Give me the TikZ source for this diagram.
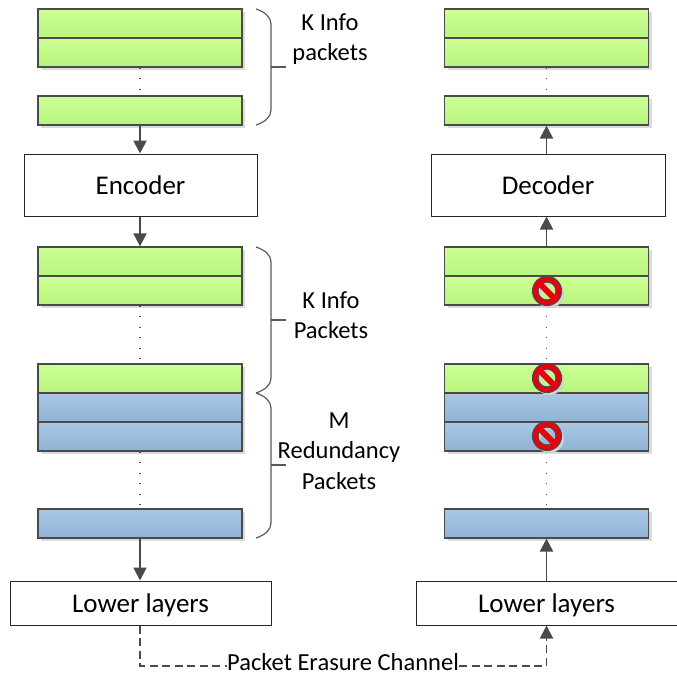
\documentclass[tikz,border=0pt]{standalone}
\usepackage{fontspec}
\setmainfont{Carlito}
\usetikzlibrary{arrows.meta,shadows}
\definecolor{edgegray}{HTML}{4A4A4A}
\definecolor{greentop}{HTML}{CCFF94}
\definecolor{greenbot}{HTML}{B8F47C}
\definecolor{bluetop}{HTML}{A9C7E3}
\definecolor{bluebot}{HTML}{8FB3D6}
\definecolor{stopred}{HTML}{E8000F}
\tikzset{
  packet/.style={draw=edgegray,line width=1.2pt,minimum width=204pt,minimum height=29pt,inner sep=0pt,
    drop shadow={shadow xshift=3pt,shadow yshift=-3pt,fill=black!14,opacity=1}},
  infopkt/.style={packet,top color=greentop,bottom color=greenbot},
  redpkt/.style={packet,top color=bluetop,bottom color=bluebot},
  block/.style={draw=black!85,fill=white,line width=1pt,inner sep=0pt,text depth=0pt,font=\fontsize{27}{27}\selectfont},
  label/.style={font=\fontsize{24.5}{24.5}\selectfont,inner sep=0pt,align=center},
  flow/.style={draw=edgegray,line width=1.9pt,-{Triangle[length=13pt,width=13pt]}},
  lossy/.style={flow,dash pattern=on 8pt off 4.5pt},
  lossyend/.style={draw=edgegray,line width=1.9pt,dash pattern=on 8pt off 4.5pt},
  dots/.style={draw=edgegray,line width=1.2pt,dash pattern=on 1.2pt off 9.3pt},
  brace/.style={draw=black!65,line width=1.2pt},
  nosign/.pic={
    \fill[black!18,even odd rule,shift={(2.5,2.5)}] (0,0) circle (14.5pt) (0,0) circle (9pt);
    \draw[fill=stopred,draw=edgegray,line width=1.1pt,even odd rule] (0,0) circle (14.5pt) (0,0) circle (9pt);
    \draw[stopred,line width=6pt] (-7.5,-7.5) -- (7.5,7.5);
  }
}
\begin{document}
\begin{tikzpicture}[x=1pt,y=-1pt]
  \useasboundingbox (0,0) rectangle (677,677);
  % sender side
  \node[infopkt] (info1) at (140,23.5) {};
  \node[infopkt] (info2) at (140,52.5) {};
  \node[infopkt] (info3) at (140,110.5) {};
  \node[block,minimum width=233pt,minimum height=62pt] (encoder) at (140.5,185) {Encoder};
  \node[infopkt] (code1) at (140,261.5) {};
  \node[infopkt] (code2) at (140,290.5) {};
  \node[infopkt] (code3) at (140,378.5) {};
  \node[redpkt] (code4) at (140,407.5) {};
  \node[redpkt] (code5) at (140,436.5) {};
  \node[redpkt] (code6) at (140,523.5) {};
  \node[block,minimum width=261pt,minimum height=44pt] (lowtx) at (140.5,603) {Lower layers};
  % receiver side
  \node[infopkt] (out1) at (546.5,23.5) {};
  \node[infopkt] (out2) at (546.5,52.5) {};
  \node[infopkt] (out3) at (546.5,110.5) {};
  \node[block,minimum width=234pt,minimum height=62pt] (decoder) at (548,185) {Decoder};
  \node[infopkt] (recv1) at (546.5,261.5) {};
  \node[infopkt] (recv2) at (546.5,290.5) {};
  \node[infopkt] (recv3) at (546.5,378.5) {};
  \node[redpkt] (recv4) at (546.5,407.5) {};
  \node[redpkt] (recv5) at (546.5,436.5) {};
  \node[redpkt] (recv6) at (546.5,523.5) {};
  \node[block,minimum width=261pt,minimum height=44pt] (lowrx) at (546.5,603) {Lower layers};
  % labels
  \node[label] (lblinfo) at (330,39) {K Info\\[6pt]packets};
  \node[label] (lblcode) at (331,315) {K Info\\[6pt]Packets};
  \node[label] (lblred) at (339,451) {M\\[6pt]Redundancy\\[6pt]Packets};
  \node[label,anchor=base,text height=8pt,text depth=0pt] (lblchan) at (343,670) {Packet Erasure Channel};
  % dots
  \draw[dots] (info2.south) -- (info3.north);
  \draw[dots] (code2.south) -- (code3.north);
  \draw[dots] (code5.south) -- (code6.north);
  \draw[dots] (out2.south) -- (out3.north);
  \draw[dots] (recv2.south) -- (recv3.north);
  \draw[dots] (recv5.south) -- (recv6.north);
  % arrows
  \draw[flow] (info3.south) -- (encoder.north -| info3.south);
  \draw[flow] (encoder.south -| code1.north) -- (code1.north);
  \draw[flow] (code6.south) -- (lowtx.north -| code6.south);
  \draw[flow] (decoder.north -| out3.south) -- (out3.south);
  \draw[flow] (recv1.north) -- (decoder.south -| recv1.north);
  \draw[flow] (lowrx.north -| recv6.south) -- (recv6.south);
  \draw[lossyend] (lowtx.south -| code6.south) |- (lblchan.west);
  \draw[lossy] (lblchan.east) -| (lowrx.south);
  % braces
  \draw[brace] (256,9) .. controls (265,12) and (271,17) .. (271,24) -- (271,110) .. controls (271,117) and (265,122) .. (256,125);
  \draw[brace] (271,67) -- (286,67);
  \draw[brace] (256,247) .. controls (265,250) and (271,255) .. (271,262) -- (271,378) .. controls (271,385) and (265,390) .. (256,393);
  \draw[brace] (271,320) -- (286,320);
  \draw[brace] (256,393) .. controls (265,396) and (271,401) .. (271,408) -- (271,523) .. controls (271,530) and (265,535) .. (256,538);
  \draw[brace] (271,465) -- (286,465);
  % lost packets
  \pic at (547,291) {nosign};
  \pic at (547,378) {nosign};
  \pic at (547,436) {nosign};
\end{tikzpicture}
\end{document}
